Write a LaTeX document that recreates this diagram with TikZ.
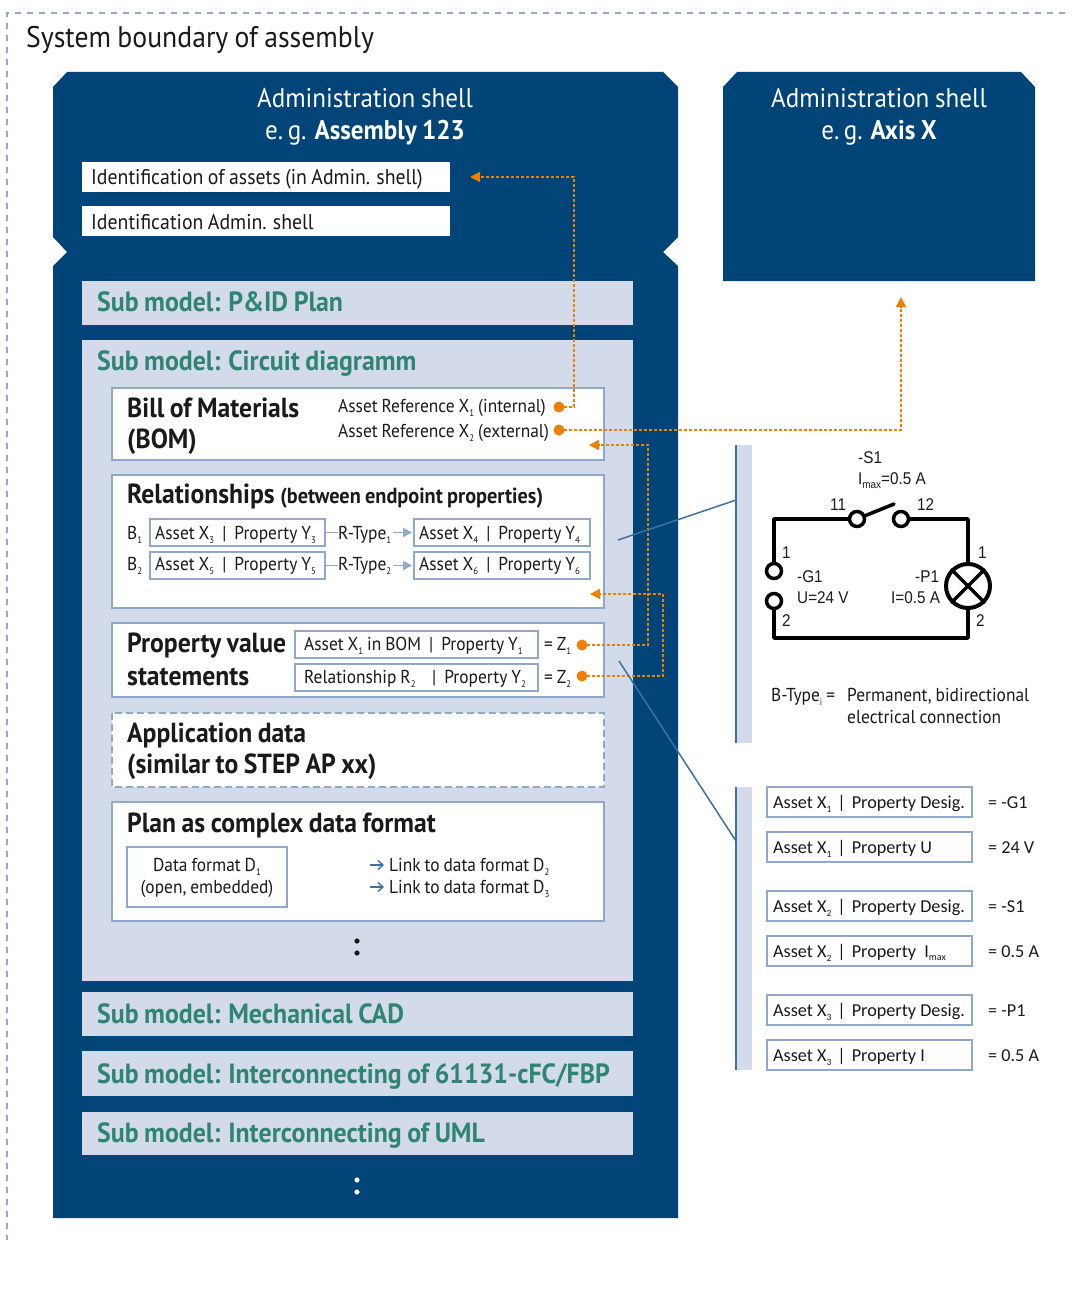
\documentclass[tikz,border=0pt]{standalone}
\usepackage{fontspec}
\usetikzlibrary{arrows.meta}
\setmainfont[FakeStretch=0.93,WordSpace=0.85]{PT Sans}
\newfontfamily\arl[FakeStretch=0.9]{Liberation Sans}
\newfontfamily\calf{Carlito}
\definecolor{navy}{HTML}{004478}
\definecolor{pale}{HTML}{D3DAEA}
\definecolor{frameblue}{HTML}{8FA9CE}
\definecolor{teal2}{HTML}{2F8572}
\definecolor{org}{HTML}{EE7F00}
\definecolor{lead}{HTML}{3F70A3}
\definecolor{ink}{HTML}{1A1A1A}
\newcommand\fs[1]{\fontsize{#1}{#1}\selectfont}
\newcommand\sbs[1]{\raisebox{-0.5ex}{\fontsize{9.5}{9.5}\selectfont #1}}
\newcommand\sepbar{\hspace{8pt}|\hspace{8pt}}
\tikzset{
 x=1pt,y=-1pt,
 txt/.style={anchor=base west,inner sep=0pt,text=ink},
 subm/.style={txt,text=teal2,font=\fs{27.8}\bfseries},
 hd/.style={txt,font=\fs{27.6}\bfseries},
 body/.style={txt,font=\fs{18.7}},
 whitebox/.style={fill=white,draw=frameblue,line width=2pt},
 cellbox/.style={fill=white,draw=frameblue,line width=1.6pt},
 ref/.style={draw=org,line width=1.5pt,dash pattern=on 3pt off 2pt},
 refa/.style={ref,-{Triangle[length=10pt,width=10pt,fill=org,sep=0pt]}},
 dot/.style={circle,fill=org,draw=none,minimum size=11pt,inner sep=0pt},
 leader/.style={draw=lead,line width=1.5pt},
 wire/.style={draw=black,line width=3.5pt,line cap=round,line join=round},
 term/.style={circle,draw=black,line width=3.5pt,fill=white,minimum size=15pt,inner sep=0pt},
 cirl/.style={txt,font=\arl\fs{17}},
 calt/.style={txt,font=\calf\fs{18.2}},
}
\begin{document}
\begin{tikzpicture}
\useasboundingbox (0,0) rectangle (1073,1300);
% system boundary
\coordinate (bA) at (1065,13);\coordinate (bB) at (7,13);\coordinate (bC) at (7,1240);
\draw[frameblue,line width=2pt,dash pattern=on 6pt off 6pt] (bA)--(bB)--(bC);
\node[txt,font=\fs{29.8}] (sys) at (26,48) {System boundary of assembly};
% shells
\fill[navy] (53,87)--(67,72)--(663,72)--(678,87)--(678,237)--(663,252)--(678,266)--(678,1218)--(53,1218)--(53,266)--(67,252)--(53,237)--cycle;
\fill[navy] (723,87)--(737,72)--(1021,72)--(1035,87)--(1035,281)--(723,281)--cycle;
\node[anchor=base,inner sep=0,text=white,font=\fs{27}] (s1a) at (365,108) {Administration shell};
\node[anchor=base,inner sep=0,text=white,font=\fs{27}] (s1b) at (365,140) {e.\,g. \textbf{Assembly 123}};
\node[anchor=base,inner sep=0,text=white,font=\fs{27}] (s2a) at (879,108) {Administration shell};
\node[anchor=base,inner sep=0,text=white,font=\fs{27}] (s2b) at (879,140) {e.\,g. \textbf{Axis X}};
\fill[white] (82,162) rectangle (450,192);
\fill[white] (82,206) rectangle (450,236);
\node[txt,font=\fs{21.3}] (id1) at (91,185) {Identification of assets (in Admin. shell)};
\node[txt,font=\fs{21.3}] (id2) at (91,229) {Identification Admin. shell};
% sub models
\fill[pale] (82,281) rectangle (633,325);
\fill[pale] (82,340) rectangle (633,981);
\fill[pale] (82,992) rectangle (633,1036);
\fill[pale] (82,1051) rectangle (633,1096);
\fill[pale] (82,1112) rectangle (633,1155);
\node[subm] (m1) at (97,311) {Sub model: P\&ID Plan};
\node[subm] (m2) at (97,370) {Sub model: Circuit diagramm};
\node[subm] (m3) at (97,1023) {Sub model: Mechanical CAD};
\node[subm] (m4) at (97,1083) {Sub model: Interconnecting of 61131-cFC/FBP};
\node[subm] (m5) at (97,1142) {Sub model: Interconnecting of UML};
% inner boxes
\draw[whitebox] (112,388) rectangle (604,460);
\draw[whitebox] (112,475) rectangle (604,608);
\draw[whitebox] (112,623) rectangle (604,697);
\draw[whitebox,dash pattern=on 7pt off 4pt] (112,713) rectangle (604,787);
\draw[whitebox] (112,802) rectangle (604,921);
% BOM
\node[hd] (bom1) at (127,417) {Bill of Materials};
\node[hd] (bom2) at (127,448) {(BOM)};
\node[body] (ar1) at (338,412) {Asset Reference X\sbs{1} (internal)};
\node[body] (ar2) at (338,437) {Asset Reference X\sbs{2} (external)};
% Relationships
\node[hd] (rel) at (127,503) {Relationships \fs{21.8}(between endpoint properties)};
\draw[cellbox] (150,519) rectangle (325,546);
\draw[cellbox] (150,552) rectangle (325,579);
\draw[cellbox] (414,519) rectangle (590,546);
\draw[cellbox] (414,552) rectangle (590,579);
\node[body] (b1) at (127,539) {B\sbs{1}};
\node[body] (b2) at (127,570) {B\sbs{2}};
\node[body] (c1) at (155,539) {Asset X\sbs{3}\sepbar Property Y\sbs{3}};
\node[body] (c2) at (155,570) {Asset X\sbs{5}\sepbar Property Y\sbs{5}};
\node[body] (c3) at (419,539) {Asset X\sbs{4}\sepbar Property Y\sbs{4}};
\node[body] (c4) at (419,570) {Asset X\sbs{6}\sepbar Property Y\sbs{6}};
\node[body] (r1) at (338,539) {R-Type\sbs{1}};
\node[body] (r2) at (338,570) {R-Type\sbs{2}};
\foreach \yy/\n in {532.5/1,565.5/2}{
 \coordinate (la\n) at (325,\yy);\coordinate (lb\n) at (338,\yy);
 \coordinate (lc\n) at (393,\yy);\coordinate (ld\n) at (412,\yy);
 \draw[frameblue,line width=1.5pt] (la\n)--(lb\n);
 \draw[frameblue,line width=1.5pt,-{Triangle[length=9pt,width=9pt]}] (lc\n)--(ld\n);
}
% Property values
\node[hd] (pv1) at (127,652) {Property value};
\node[hd] (pv2) at (127,685) {statements};
\draw[cellbox] (295,631) rectangle (538,658);
\draw[cellbox] (295,664) rectangle (538,691);
\node[body] (pc1) at (304,650) {Asset X\sbs{1} in BOM\sepbar Property Y\sbs{1}};
\node[body] (pc2) at (304,683) {Relationship R\sbs{2}};
\node[body] (pc3) at (432,683) {|\hspace{8pt}Property Y\sbs{2}};
\node[body] (z1) at (544,650) {= Z\sbs{1}};
\node[body] (z2) at (544,683) {= Z\sbs{2}};
% App data
\node[hd] (ap1) at (127,742) {Application data};
\node[hd] (ap2) at (127,773) {(similar to STEP AP xx)};
% Plan
\node[hd] (pl) at (127,832) {Plan as complex data format};
\draw[cellbox] (127,847) rectangle (287,907);
\node[anchor=base,inner sep=0,text=ink,font=\fs{18.7}] (df1) at (207,871) {Data format D\sbs{1}};
\node[anchor=base,inner sep=0,text=ink,font=\fs{18.7}] (df2) at (207,893) {(open, embedded)};
\node[body] (lk1) at (389,871) {Link to data format D\sbs{2}};
\node[body] (lk2) at (389,893) {Link to data format D\sbs{3}};
\foreach \yy/\n in {865/1,887/2}{
 \coordinate (aa\n) at (370,\yy);\coordinate (ab\n) at (384,\yy);
 \draw[lead,line width=1.4pt,-{Straight Barb[length=5pt,width=9pt]}] (aa\n)--(ab\n);
}
% ellipsis
\fill[ink] (357,941) circle (2.6);\fill[ink] (357,953) circle (2.6);
\fill[white] (357,1180) circle (2.6);\fill[white] (357,1192) circle (2.6);
% references
\node[dot] (d1) at (559,407) {};
\node[dot] (d2) at (559,430) {};
\node[dot] (d3) at (582,645) {};
\node[dot] (d4) at (582,676) {};
\coordinate (t1) at (470,177);\coordinate (t2) at (901,297);\coordinate (t3) at (589,445);\coordinate (t4) at (590,594);
\draw[refa] (d1.center)-|(574,177)--(t1);
\draw[refa] (d2.center)-|(t2);
\draw[refa] (d3.center)-|(648,445)--(t3);
\draw[refa] (d4.center)-|(663,594)--(t4);
% bars
\fill[pale] (736,445) rectangle (752,743);
\fill[pale] (736,787) rectangle (752,1070);
\draw[leader] (736,445)--(736,743);
\draw[leader] (736,787)--(736,1070);
\coordinate (le1) at (618,540);\coordinate (le2) at (736,500);
\coordinate (le3) at (619,661);\coordinate (le4) at (736,841);
\draw[leader] (le1)--(le2);
\draw[leader] (le3)--(le4);
% circuit
\node[term] (sw1) at (857,519) {};
\node[term] (sw2) at (901,519) {};
\node[term] (g1) at (774,571) {};
\node[term] (g2) at (774,601) {};
\node[circle,draw=black,line width=4pt,minimum size=44pt,inner sep=0pt] (lamp) at (968,586) {};
\draw[wire] (sw1)-|(g1);
\draw[wire] (g2)|-(968,638)--(lamp);
\draw[wire] (sw2)-|(lamp);
\coordinate (arm) at (894,504);
\draw[wire] (sw1)--(arm);
\draw[black,line width=3.5pt] (lamp.north west)--(lamp.south east);
\draw[black,line width=3.5pt] (lamp.north east)--(lamp.south west);
\node[cirl] (s1) at (858,463) {-S1};
\node[cirl] (s2) at (858,484) {I\raisebox{-0.45ex}{\fs{11}max}=0.5 A};
\node[cirl] (n11) at (830,510) {11};
\node[cirl] (n12) at (917,510) {12};
\node[cirl] (n1l) at (782,558) {1};
\node[cirl] (n2l) at (782,626) {2};
\node[cirl] (n1r) at (978,558) {1};
\node[cirl] (n2r) at (976,626) {2};
\node[cirl] (gg1) at (797,582) {-G1};
\node[cirl] (gg2) at (797,603) {U=24 V};
\node[cirl] (pp1) at (915,582) {-P1};
\node[cirl] (pp2) at (891,603) {I=0.5 A};
\node[body] (bt) at (771,701) {B-Type\sbs{i} =};
\node[body] (bt1) at (847,701) {Permanent, bidirectional};
\node[body] (bt2) at (847,723) {electrical connection};
% property list
\foreach \yy/\ta/\tb/\tc/\n in {
 787/1/{Property Desig.}/{= -G1}/a,
 832/1/{Property U}/{= 24 V}/b,
 891/2/{Property Desig.}/{= -S1}/c,
 936/2/{Property\ \ I\raisebox{-0.45ex}{\fs{10}max}}/{= 0.5 A}/d,
 995/3/{Property Desig.}/{= -P1}/e,
 1040/3/{Property I}/{= 0.5 A}/f}{
 \draw[cellbox] (767,\yy) rectangle (972,\yy+30);
 \node[calt] (pl\n) at (773,\yy+21) {Asset X\sbs{\ta}\hspace{6pt}|\hspace{6pt}\tb};
 \node[calt] (pv\n) at (988,\yy+21) {\tc};
}
\end{tikzpicture}
\end{document}
